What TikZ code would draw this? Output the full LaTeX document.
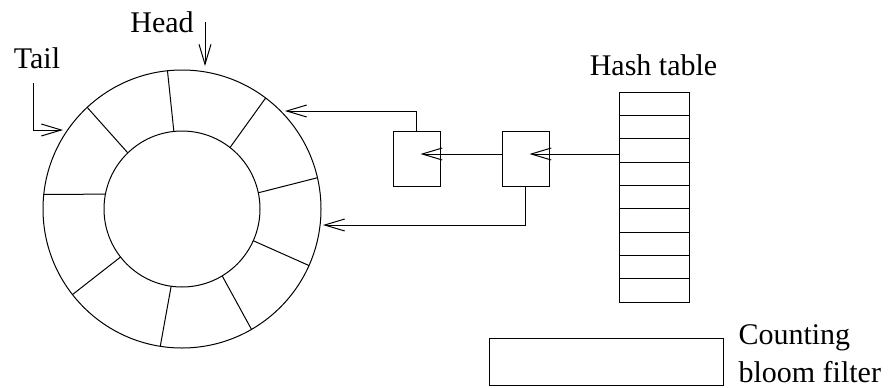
\documentclass[tikz,border=0pt]{standalone}
\usepackage{fontspec}
\setmainfont{Liberation Serif}
\usetikzlibrary{arrows.meta,positioning}

\tikzset{
  arr/.style={-{Straight Barb[length=10pt,width=6pt]}},
  ring/.style={circle, draw, inner sep=0pt, outer sep=0pt},
  cell/.style={draw, minimum width=23.5pt, minimum height=27.5pt, inner sep=0pt, outer sep=0pt},
  lbl/.style={font=\fontsize{15}{19}\selectfont, inner sep=0pt},
}

\begin{document}
\begin{tikzpicture}[x=0.5pt, y=0.5pt, line width=0.5pt]

\useasboundingbox (0,0) rectangle (888,387);

% ring buffer
\node [ring, minimum size=139pt] (ring) at (182,178) {};
\node [ring, minimum size=78pt]  (hole) at (182,178) {};

\foreach \o/\i in {13/12, 53/52, 96/96, 133/134, 174/169, 218/218, 261/262, 300/301, 336/336}
    \draw (ring.\o) -- (hole.\i);

\node [lbl] (head) at (162,364.5) {Head};
\node [lbl] (tail) at (37,329)    {Tail};

\coordinate (hd0) at (205,365);
\coordinate (hd1) at (205,321);
\coordinate (tl0) at (33,304);
\coordinate (tl1) at (63,257);

\draw [arr] (hd0) -- (hd1);
\draw [arr] (tl0) |- (tl1);

% chain entries
\node [cell] (b1) at (416.5,228.5) {};
\node [cell] (b2) at (525.5,228.5) {};

% hash table
\node [draw, minimum width=35pt, minimum height=105pt, inner sep=0pt, outer sep=0pt] (tab) at (654,190) {};
\foreach \r in {1,...,8}
    \draw (tab.south west) ++(0,23.33*\r) -- ++(70,0);
\node [lbl] (tabname) at (653.5,322) {Hash table};

\coordinate (t1) at ([shift={(4,4.5)}]b1.center);
\coordinate (t2) at ([shift={(4,4.5)}]b2.center);
\coordinate (r1) at (285,276);
\coordinate (r2) at (323,162);

\draw [arr] (tab.west |- t2) -- (t2);
\draw [arr] (b2.west |- t1) -- (t1);
\draw [arr] (b1.north) |- (r1);
\draw [arr] (b2.south) |- (r2);

% counting bloom filter
\node [draw, minimum width=117pt, minimum height=23.5pt, inner sep=0pt, outer sep=0pt] (bloom) at (606,25.5) {};
\node [lbl, anchor=west, align=left] (bloomname) at (738,33.5) {Counting\\bloom filter};

\end{tikzpicture}
\end{document}
